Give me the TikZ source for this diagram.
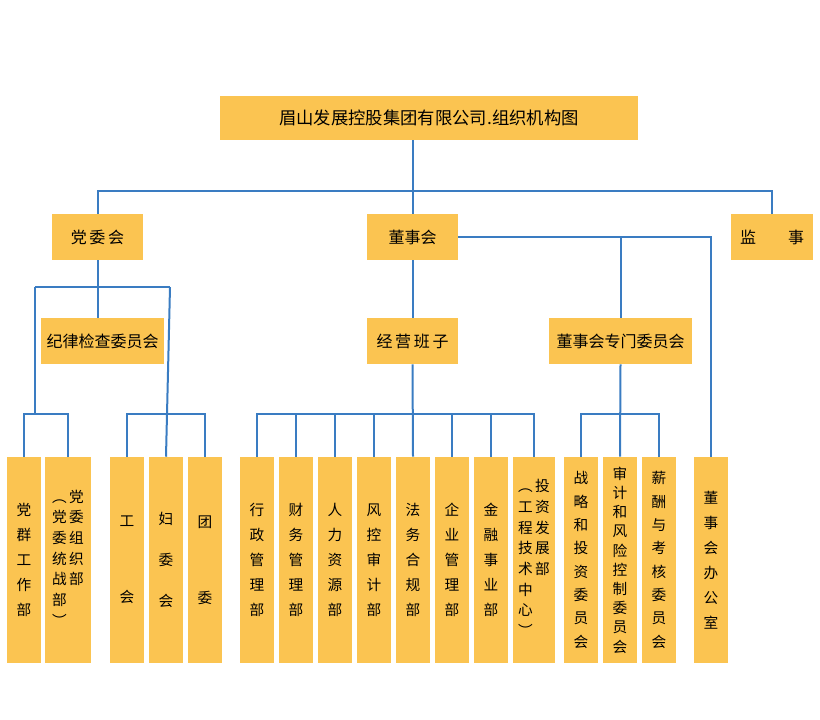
\documentclass[tikz,border=0pt]{standalone}
\usepackage{fontspec}
\setmainfont{Noto Sans CJK SC}
\usetikzlibrary{positioning}
\definecolor{boxfill}{HTML}{FBC451}
\definecolor{linkblue}{HTML}{3A7CC2}
\tikzstyle{box} = [rectangle, fill=boxfill, inner sep=0pt, align=center, font=\fontsize{12}{14}\selectfont]
\tikzstyle{dept} = [box, minimum width=25.5pt, minimum height=154.5pt, font=\fontsize{11}{18.75}\selectfont]
\tikzstyle{link} = [draw=linkblue, line width=1.5pt]

\begin{document}
\begin{tikzpicture}[x=0.75pt, y=-0.75pt]
        \useasboundingbox (0,0) rectangle (820,720);
        % upper levels
        \node (title) [box, minimum width=313.5pt, minimum height=33pt, font=\fontsize{13}{15}\selectfont] at (429,118) {眉山发展控股集团有限公司.组织机构图};
        \node (party) [box, minimum width=68.25pt, minimum height=34.5pt] at (97.5,237) {党\,委\,会};
        \node (board) [box, minimum width=68.25pt, minimum height=34.5pt] at (412.5,237) {董事会};
        \node (super) [box, minimum width=61.5pt, minimum height=34.5pt] at (772,237) {监\qquad 事};
        \node (discip) [box, minimum width=92.25pt, minimum height=34.5pt] at (102.5,341) {纪律检查委员会};
        \node (manage) [box, minimum width=68.25pt, minimum height=34.5pt] at (412.5,341) {经\,营\,班\,子};
        \node (commit) [box, minimum width=107.25pt, minimum height=34.5pt] at (620.5,341) {董事会专门委员会};

        % departments
        \node (qunzhong) [dept] at (24,560) {党\\群\\工\\作\\部};
        \node (zuzhi) [dept, minimum width=34.5pt, font=\fontsize{11}{15.5}\selectfont] at (68,560) {\begin{tabular}{@{}c@{\,}c@{}}︵&党\\党&委\\委&组\\统&织\\战&部\\部&\\︶&\end{tabular}};
        \node (gonghui) [dept] at (127,560) {工\\[38pt]会};
        \node (fuwei) [dept] at (166,560) {妇\\[12pt]委\\[12pt]会};
        \node (tuanwei) [dept] at (205,560) {团\\[38pt]委};
        \node (xingzheng) [dept] at (257,560) {行\\政\\管\\理\\部};
        \node (caiwu) [dept] at (296,560) {财\\务\\管\\理\\部};
        \node (renli) [dept] at (335,560) {人\\力\\资\\源\\部};
        \node (fengkong) [dept] at (374,560) {风\\控\\审\\计\\部};
        \node (fawu) [dept] at (413,560) {法\\务\\合\\规\\部};
        \node (qiye) [dept] at (452,560) {企\\业\\管\\理\\部};
        \node (jinrong) [dept] at (491,560) {金\\融\\事\\业\\部};
        \node (touzi) [dept, minimum width=31.5pt, font=\fontsize{11}{15.5}\selectfont] at (534,560) {\begin{tabular}{@{}c@{\,}c@{}}︵&投\\工&资\\程&发\\技&展\\术&部\\中&\\心&\\︶&\end{tabular}};
        \node (zhanlue) [dept, font=\fontsize{11}{17.5}\selectfont] at (581,560) {战\\略\\和\\投\\资\\委\\员\\会};
        \node (shenji) [dept, font=\fontsize{11}{14.4}\selectfont] at (620,560) {审\\计\\和\\风\\险\\控\\制\\委\\员\\会};
        \node (xinchou) [dept, font=\fontsize{11}{17.5}\selectfont] at (659,560) {薪\\酬\\与\\考\\核\\委\\员\\会};
        \node (office) [dept] at (711,560) {董\\事\\会\\办\\公\\室};

        % connectors
        \draw [link] (board.north |- title.south) -- (board.north);
        \draw [link] (party.north) -- ++(0,-23) -| (super.north);
        \draw [link] (party.south) -- (discip.north -| party.south);
        \draw [link] (35,287) coordinate (pl) -- (170,287) coordinate (pr);
        \draw [link] (pl) -- (35,414) coordinate (ql);
        \draw [link] (pr) -- (fuwei.north);
        \draw [link] (qunzhong.north) |- (ql) -| (zuzhi.north);
        \draw [link] (gonghui.north) -- ++(0,-43) -| (tuanwei.north);
        \draw [link] (board.south) -- (manage.north);
        \draw [link] (manage.south) -- (fawu.north);
        \draw [link] (xingzheng.north) -- ++(0,-43) -| (touzi.north);
        \foreach \d in {caiwu, renli, fengkong, qiye, jinrong}
            \draw [link] (\d.north) -- ++(0,-43);
        \draw [link] (board.east) -| (office.north);
        \draw [link] (commit.north |- board.east) -- (commit.north);
        \draw [link] (commit.south) -- (shenji.north);
        \draw [link] (zhanlue.north) -- ++(0,-43) -| (xinchou.north);
    \end{tikzpicture}
\end{document}
